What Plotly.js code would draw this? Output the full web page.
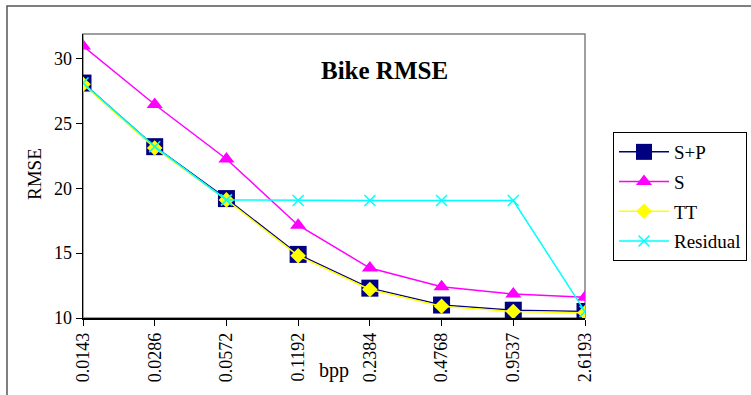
<!DOCTYPE html>
<html><head><meta charset="utf-8">
<script src="https://cdn.plot.ly/plotly-3.0.1.min.js"></script>
<style>html,body{margin:0;padding:0;background:#fff;}#chart{width:751px;height:395px;}</style>
</head><body><div id="chart"></div>
<script>
const categories = ["0.0143","0.0286","0.0572","0.1192","0.2384","0.4768","0.9537","2.6193"];
const sp = [28.1, 23.2, 19.2, 14.9, 12.3, 11.0, 10.6, 10.5];
const s = [30.95, 26.45, 22.25, 17.15, 13.85, 12.4, 11.85, 11.6];
const tt = [28.0, 23.1, 19.1, 14.8, 12.2, 10.9, 10.5, 10.4];
const residual = [28.1, 23.2, 19.1, 19.05, 19.05, 19.05, 19.05, 10.5];
const yTicks = [10, 15, 20, 25, 30];

const serif = "'Liberation Serif', 'Times New Roman', Times, serif";
const W = 751, H = 395, L = 83, R = 585, T = 34, B = 318;
const px = v => (v - L) / (R - L);
const py = v => (B - v) / (B - T);

const traces = [
  {name:"S+P", legendgroup:"a", x:categories, y:sp, type:"scatter", mode:"lines+markers",
   line:{color:"#000080", width:1.5}, marker:{symbol:"square", size:17, color:"#000080"}},
  {name:"S", legendgroup:"b", x:categories, y:s, type:"scatter", mode:"lines+markers",
   line:{color:"#FF00FF", width:1.5}, marker:{symbol:"triangle-up", size:14, color:"#FF00FF"}},
  {name:"TT", legendgroup:"c", x:categories, y:tt, type:"scatter", mode:"lines+markers",
   line:{color:"#FFFF00", width:1.5}, marker:{symbol:"diamond", size:12, color:"#FFFF00"}},
  {name:"Residual", legendgroup:"d", x:categories, y:residual, type:"scatter", mode:"lines+markers",
   line:{color:"#00FFFF", width:1.5}, marker:{symbol:"x-thin", size:11, line:{color:"#00FFFF", width:1.5}}}
];

const layout = {
  width:W, height:H,
  margin:{l:L, r:W-R, t:T, b:H-B, pad:0, autoexpand:false},
  paper_bgcolor:"#fff", plot_bgcolor:"#fff",
  font:{family:serif, size:18, color:"#000"},
  showlegend:true,
  legend:{x:px(613), y:py(132), xanchor:"left", yanchor:"top",
    bgcolor:"#fff", bordercolor:"#000", borderwidth:1, traceorder:"grouped",
    font:{family:serif, size:19, color:"#000"}, itemwidth:50, tracegroupgap:2},
  xaxis:{type:"category", categoryarray:categories, range:[0,7],
    showgrid:false, zeroline:false, showline:true, linecolor:"#000", linewidth:1.5,
    ticks:"outside", ticklen:6, tickcolor:"#000", tickwidth:1, tickangle:-90,
    tickfont:{family:serif, size:18, color:"#000"}},
  xaxis2:{type:"category", categoryarray:categories, range:[0,7], overlaying:"x",
    showgrid:false, zeroline:false, showline:false, ticks:"inside", ticklen:6,
    tickcolor:"#000", showticklabels:false, anchor:"y"},
  yaxis:{range:[10,31.88], tickvals:yTicks, showgrid:false, zeroline:false,
    showline:true, linecolor:"#000", linewidth:1.5,
    ticks:"outside", ticklen:6, tickcolor:"#000", tickwidth:1,
    tickfont:{family:serif, size:18, color:"#000"}},
  yaxis2:{range:[10,31.88], tickvals:yTicks, overlaying:"y", showgrid:false,
    zeroline:false, showline:false, ticks:"inside", ticklen:6, tickcolor:"#000",
    showticklabels:false, anchor:"x"},
  shapes:[
    {type:"rect", xref:"paper", yref:"paper", x0:px(7), x1:px(770), y0:py(410), y1:py(6),
     line:{color:"#555", width:1.5}, fillcolor:"rgba(0,0,0,0)", layer:"below"},
    {type:"rect", xref:"paper", yref:"paper", x0:0, x1:1, y0:0, y1:1,
     line:{color:"#808080", width:1.5}, fillcolor:"rgba(0,0,0,0)", layer:"below"}
  ],
  annotations:[
    {text:"<b>Bike RMSE</b>", xref:"paper", yref:"paper", x:px(384), y:py(70),
     xanchor:"center", yanchor:"middle", showarrow:false,
     font:{family:serif, size:25, color:"#000"}},
    {text:"RMSE", xref:"paper", yref:"paper", x:px(34), y:py(174), textangle:-90,
     xanchor:"center", yanchor:"middle", showarrow:false,
     font:{family:serif, size:19, color:"#000"}},
    {text:"bpp", xref:"paper", yref:"paper", x:px(334), y:py(370),
     xanchor:"center", yanchor:"middle", showarrow:false,
     font:{family:serif, size:20, color:"#000"}}
  ]
};

Plotly.newPlot("chart", traces, layout, {displayModeBar:false, staticPlot:true});
</script></body></html>
